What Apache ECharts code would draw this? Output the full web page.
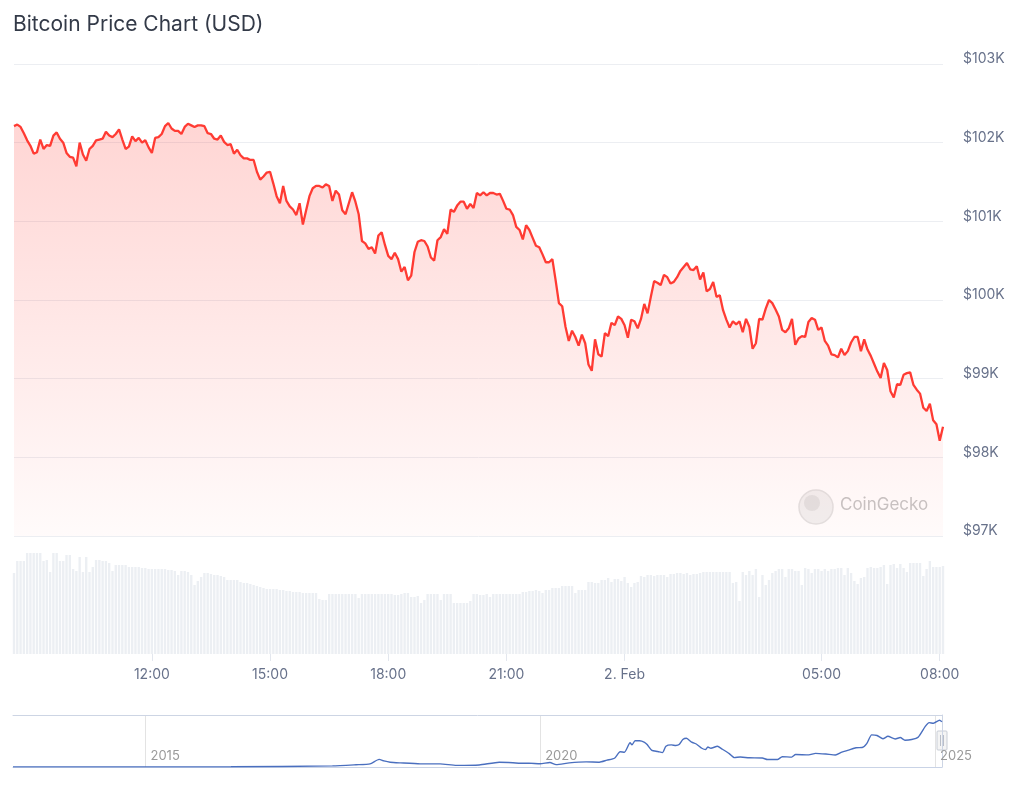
<!DOCTYPE html>
<html>
<head>
<meta charset="utf-8">
<script src="https://cdn.jsdelivr.net/npm/echarts@6.0.0/dist/echarts.min.js"></script>
<style>
html,body{margin:0;padding:0;background:#fff;}
#chart{width:1024px;height:787px;}
</style>
</head>
<body>
<div id="chart"></div>
<script>
// ---- Data ----
const START_DAY = '2025-02-01';
const NEXT_DAY = '2025-02-02';
const START_MINUTE = 8 * 60 + 30;   // 08:30
const STEP_MINUTES = 5;

const price = [
102210,102230,102200,102120,102030,101960,101860,101880,102040,101920,
101970,101960,102090,102130,102050,102000,101870,101820,101810,101700,
102000,101850,101770,101920,101960,102030,102040,102050,102140,102090,
102070,102110,102170,102040,101920,101950,102080,102020,102060,102000,
102030,101940,101870,102060,102070,102110,102210,102250,102180,102150,
102150,102110,102200,102240,102220,102200,102220,102220,102210,102120,
102110,102050,102040,102090,102010,101970,101980,101860,101910,101840,
101800,101800,101780,101780,101630,101530,101570,101620,101630,101480,
101320,101230,101450,101260,101190,101150,101080,101230,100960,101140,
101320,101420,101450,101450,101430,101470,101450,101260,101390,101340,
101140,101090,101230,101370,101250,101090,100750,100720,100650,100670,
100590,100820,100860,100700,100560,100520,100600,100520,100360,100420,
100250,100310,100610,100740,100760,100750,100680,100540,100500,100760,
100800,100900,100840,101150,101120,101200,101250,101250,101160,101220,
101170,101360,101330,101370,101330,101360,101360,101340,101350,101260,
101160,101150,101080,100930,100890,100770,100950,100890,100790,100690,
100670,100580,100480,100480,100520,100250,99960,99920,99660,99480,
99610,99530,99420,99560,99450,99180,99100,99500,99310,99280,
99580,99540,99710,99680,99790,99760,99680,99520,99750,99730,
99640,99760,99950,99830,100040,100240,100220,100190,100320,100290,
100210,100230,100290,100370,100420,100470,100390,100380,100430,100260,
100350,100110,100140,100230,100040,100060,99870,99750,99650,99730,
99690,99730,99590,99760,99660,99380,99450,99760,99750,99890,
100000,99960,99880,99790,99620,99590,99640,99760,99430,99510,
99540,99530,99720,99770,99750,99620,99650,99480,99420,99310,
99300,99270,99380,99300,99350,99460,99530,99530,99350,99500,
99370,99290,99190,99090,99010,99200,99110,98840,98760,98930,
98920,99050,99070,99080,98920,98860,98810,98630,98590,98680,
98470,98420,98210,98390
];

// volume, billions USD
const volume = [
40.5,46.5,46.5,46.5,50.5,50.5,50.5,50.5,50.5,46.5,
47,41,50.5,50.5,46.5,46.5,49.5,49.5,42.5,41.5,
48.5,41,48.5,41,43.5,47,47,46.5,46.5,45.5,
41.5,44.5,44.5,44.5,44.5,43.5,43.5,43.5,43.5,43,
43,42.5,42.5,42.5,42.5,42.5,42.5,42,42,41.5,
39.5,41.5,41.5,41,39.5,34.5,36.5,38.5,40.5,40.5,
40,39.5,39.5,39,38.5,37,37,37,37,36,
35.5,35.5,35,34.5,34,33.5,33,32.5,32.5,32.5,
32.5,32,32,31.5,31.5,31,31,31,30.5,30.5,
30.5,30.5,30.5,27.5,27,27,30,30,30,30,
30,30,30,30,30,28,30,30,30,30,
30,30,30,30,30,30,29.5,29.5,30,30.5,
30.5,28.5,28.5,29,25.5,27,30,30,30,30,
27,30,30,30,25.5,25.5,25.5,25.5,25.5,26.5,
30,30,29.5,29.5,30,28.5,30,30,30,30,
30,30,30,30,30,31,31,31.5,31.5,32,
31.5,30.5,32,32,33,33,33,34,34,34,
34,30.5,32,32,32,36,36,35.5,35.5,37,
37,38,36,37.5,37.5,36.5,38.5,35.5,33.5,35.5,
36,39,38.5,39.5,39.5,39,39.5,39.5,39.5,38.5,
40,40,40.5,40.5,40,40.5,39.5,40,40,40.5,
41,41,41,41,41,41,41,41,41,35.5,
36,26.5,41,39.5,41.5,39.5,42.5,28.5,39.5,34.5,
37,40.5,41.5,42.5,42.5,38.5,42.5,42.5,41.5,41.5,
34.5,43,42.5,40.5,42.5,42.5,41.5,42.5,41.5,42.5,
42.5,43,43,39.5,43,40.5,36.5,35,38,38.5,
43,43.5,43,43,43.5,44.5,35,44.5,45,43,
45,43,41,45.5,45.5,45.5,45.5,39,42.5,46.5,
43.5,43.5,43.5,44
];

const xLabelTimes = ['12:00', '15:00', '18:00', '21:00', '00:00', '05:00', '08:00'];
const yTicks = [97000, 98000, 99000, 100000, 101000, 102000, 103000];

// navigator: long-term history (thousand USD)
const navDates = [
'2013-04-28','2016-02-01','2017-05-15','2017-09-01','2017-11-05','2017-12-17','2018-01-08','2018-02-06',
'2018-03-25','2018-06-25','2018-09-25','2018-12-10','2019-03-25','2019-06-26','2019-08-28','2019-10-01',
'2019-11-10','2020-01-01','2020-02-15','2020-03-15','2020-05-15','2020-08-01','2020-10-01','2020-11-05',
'2020-12-10','2021-01-05','2021-01-25','2021-02-20','2021-03-01','2021-03-15','2021-04-05','2021-04-28',
'2021-05-10','2021-06-01','2021-06-28','2021-07-20','2021-08-05','2021-08-30','2021-09-20','2021-10-05',
'2021-10-22','2021-11-08','2021-12-02','2021-12-25','2022-01-18','2022-02-05','2022-02-15','2022-03-01',
'2022-03-31','2022-04-22','2022-05-25','2022-06-18','2022-07-15','2022-08-25','2022-10-25','2022-11-18',
'2023-01-03','2023-01-25','2023-03-10','2023-03-28','2023-05-28','2023-06-28','2023-08-15','2023-09-28',
'2023-10-28','2023-11-28','2024-01-01','2024-01-30','2024-02-20','2024-03-14','2024-04-08','2024-05-05',
'2024-05-28','2024-07-01','2024-07-24','2024-08-15','2024-09-15','2024-10-16','2024-11-17','2024-12-05',
'2024-12-25','2025-01-22','2025-02-02'
];
const navValues = [
0.2,0.4,2.5,5,7,17,13.6,10.7,
9.2,7,7,3.6,4.5,10.7,9.6,8.3,
8.6,7.2,10.1,5.3,9.2,11.4,10.7,15.2,
19.5,34,33,54,49.4,58.4,58.4,55,
50,37,34.5,32,46.5,49.4,47.9,50,
61.3,64.2,55.3,50.8,41.8,38.9,44.7,41.8,
46.3,40,30,21,22.4,20.5,20,16.6,
16.6,23,22,27.8,27,30.5,29,26.8,
33,37.5,43,43.4,52,71.6,70.2,63,
68.5,62.6,65.7,59.7,61.3,67.1,90.5,99,
97.5,104.4,100.8
];
const navTickYears = ['2015-01-01', '2020-01-01', '2025-01-01'];

// ---- Build ----
const pad = n => (n < 10 ? '0' : '') + n;
const categories = price.map((_, i) => {
  const m = START_MINUTE + i * STEP_MINUTES;
  const day = m >= 1440 ? NEXT_DAY : START_DAY;
  const mm = m % 1440;
  return day + ' ' + pad(Math.floor(mm / 60)) + ':' + pad(mm % 60);
});
const showTime = (idx, val) => xLabelTimes.indexOf(String(val).slice(11)) >= 0;
const toMs = d => new Date(d + 'T00:00:00Z').getTime();

const FONT = 'Inter, "Noto Sans", sans-serif';
const chart = echarts.init(document.getElementById('chart'), null, {renderer: 'canvas'});

const navStart = toMs('2013-04-28');
const navEnd = new Date('2025-02-02T08:05:00Z').getTime();
const navTicks = navTickYears.map(toMs);

chart.setOption({
  animation: false,
  backgroundColor: '#ffffff',
  title: {
    text: 'Bitcoin Price Chart (USD)',
    left: 8, top: 9,
    textStyle: {fontFamily: FONT, fontSize: 21, fontWeight: 'normal', color: '#333a48'}
  },
  grid: [
    {left: 14, right: 81, top: 64, height: 472},
    {left: 14, right: 81, top: 553, height: 101},
    {left: 13, right: 82, top: 715, height: 52}
  ],
  xAxis: [
    {gridIndex: 0, type: 'category', data: categories, boundaryGap: false, show: false},
    {gridIndex: 1, type: 'category', data: categories, boundaryGap: false,
      axisLine: {show: false},
      axisTick: {show: true, interval: showTime, length: 7, lineStyle: {color: '#e3e7ee'}},
      axisLabel: {interval: showTime, margin: 14, color: '#67718a', fontSize: 14, fontFamily: FONT,
        formatter: v => (String(v).slice(11) === '00:00' ? '2. Feb' : String(v).slice(11))},
      splitLine: {show: false}
    },
    {gridIndex: 2, type: 'value', min: navStart, max: navEnd,
      axisLine: {show: true, lineStyle: {color: '#c9d3e6', width: 1}},
      axisTick: {show: false, customValues: navTicks},
      axisLabel: {inside: true, margin: 4, align: 'left', padding: [0, 0, 0, 5], color: '#9a9a9a', fontSize: 13, fontFamily: FONT,
        customValues: navTicks,
        formatter: v => String(new Date(v).getUTCFullYear())},
      splitLine: {show: true, lineStyle: {color: '#e3e3e3', width: 1}}
    },
    {gridIndex: 2, type: 'value', min: navStart, max: navEnd, position: 'top',
      axisLine: {show: true, lineStyle: {color: '#cdd5e4', width: 1}},
      axisTick: {show: false}, axisLabel: {show: false}, splitLine: {show: false}
    }
  ],
  yAxis: [
    {gridIndex: 0, type: 'value', position: 'right', min: yTicks[0], max: yTicks[yTicks.length - 1], interval: 1000,
      axisLine: {show: false}, axisTick: {show: false},
      axisLabel: {margin: 20, color: '#67718a', fontSize: 14, lineHeight: 10, fontFamily: FONT, verticalAlign: 'bottom',
        formatter: v => '$' + (v / 1000) + 'K'},
      splitLine: {show: true, lineStyle: {color: '#eceef2', width: 1}}
    },
    {gridIndex: 1, type: 'value', min: 0, max: 50.5, show: false},
    {gridIndex: 2, type: 'value', min: 0, max: 116, position: 'right',
      axisLine: {show: true, lineStyle: {color: '#cdd5e4'}}, axisTick: {show: false},
      axisLabel: {show: false}, splitLine: {show: false}}
  ],
  series: [
    {
      name: 'Volume', type: 'bar', xAxisIndex: 1, yAxisIndex: 1, data: volume,
      barCategoryGap: '28%', itemStyle: {color: '#eceff3'}, silent: true
    },
    {
      name: 'Price', type: 'line', xAxisIndex: 0, yAxisIndex: 0, data: price,
      showSymbol: false, symbol: 'none',
      lineStyle: {color: '#ff3b33', width: 2.3},
      areaStyle: {
        color: new echarts.graphic.LinearGradient(0, 0, 0, 1, [
          {offset: 0, color: 'rgba(255,59,51,0.30)'},
          {offset: 1, color: 'rgba(255,59,51,0.03)'}
        ])
      }
    },
    {
      name: 'History', type: 'line', xAxisIndex: 2, yAxisIndex: 2,
      data: navDates.map((d, i) => [toMs(d), navValues[i]]),
      showSymbol: false, symbol: 'none', smooth: 0.2,
      lineStyle: {color: '#4a6fbf', width: 1.4}
    }
  ],
  graphic: [
    {type: 'circle', shape: {cx: 816, cy: 507, r: 17}, style: {fill: '#f1f1f1', stroke: '#e2e2e2', lineWidth: 1.5}, silent: true},
    {type: 'circle', shape: {cx: 812, cy: 503, r: 8}, style: {fill: '#e2e2e2'}, silent: true},
    {type: 'text', left: 840, top: 496, style: {text: 'CoinGecko', fill: '#c6c6c6', font: '17px ' + FONT}, silent: true},
    {type: 'rect', shape: {x: 937, y: 731, width: 10, height: 19, r: 1}, style: {fill: '#f4f4f4', stroke: '#c8cdd6', lineWidth: 1}, silent: true},
    {type: 'line', shape: {x1: 940.5, y1: 735, x2: 940.5, y2: 746}, style: {stroke: '#b9bec8', lineWidth: 1}, silent: true},
    {type: 'line', shape: {x1: 943.5, y1: 735, x2: 943.5, y2: 746}, style: {stroke: '#b9bec8', lineWidth: 1}, silent: true}
  ]
});
</script>
</body>
</html>
